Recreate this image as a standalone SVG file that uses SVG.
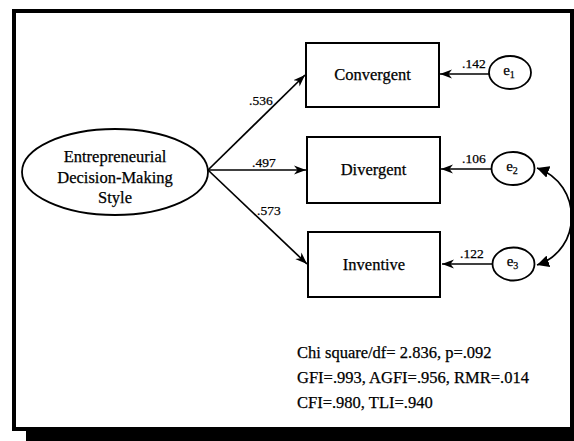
<svg xmlns="http://www.w3.org/2000/svg" width="574" height="441" viewBox="0 0 574 441">
<style>
text{font-family:"Liberation Serif","Times New Roman",serif;fill:#000;stroke:#000;stroke-width:0.25}
.box{fill:#fff;stroke:#000;stroke-width:2}
.ell{fill:#fff;stroke:#000;stroke-width:1.8}
.lbl{font-size:16.5px;text-anchor:middle}
.coef{font-size:13.5px}
.stat{font-size:16.5px}
.e{font-size:15px;text-anchor:middle}
.sub{font-size:10px}
.conn{stroke:#000;stroke-width:1.7;fill:none}
</style>
<defs>
<marker id="arr" markerUnits="userSpaceOnUse" markerWidth="13" markerHeight="10" refX="12" refY="5" orient="auto">
<path d="M0,0.5 L12,5 L0,9.5 L3.5,5 z" fill="#000"/>
</marker>
<marker id="tri" markerUnits="userSpaceOnUse" markerWidth="13" markerHeight="12" refX="12" refY="6" orient="auto-start-reverse">
<path d="M0,0 L12,6 L0,12 z" fill="#000"/>
</marker>
</defs>
<g id="frame">
<rect x="26" y="22" width="560" height="430" fill="#000"/>
<rect x="14" y="11" width="558" height="418" fill="#fff" stroke="#000" stroke-width="4"/>
</g>
<g id="connectors">
<line class="conn" x1="208" y1="170" x2="305" y2="75" marker-end="url(#arr)"/>
<line class="conn" x1="208" y1="170" x2="306" y2="170" marker-end="url(#arr)"/>
<line class="conn" x1="208" y1="170" x2="307" y2="264" marker-end="url(#arr)"/>
<line class="conn" x1="489" y1="74" x2="440" y2="74" marker-end="url(#arr)"/>
<line class="conn" x1="491" y1="169" x2="441" y2="169" marker-end="url(#arr)"/>
<line class="conn" x1="492" y1="264" x2="442" y2="264" marker-end="url(#arr)"/>
<path class="conn" d="M537,168 C583,184 583,250 537,265" marker-start="url(#tri)" marker-end="url(#tri)"/>
<text class="coef" x="249" y="105">.536</text>
<text class="coef" x="252" y="167">.497</text>
<text class="coef" x="257" y="215">.573</text>
<text class="coef" x="462" y="68">.142</text>
<text class="coef" x="462" y="163">.106</text>
<text class="coef" x="460" y="258">.122</text>
</g>
<g id="edms">
<ellipse class="ell" cx="115" cy="172" rx="93" ry="43"/>
<text class="lbl" x="115" y="162">Entrepreneurial</text>
<text class="lbl" x="115" y="183">Decision-Making</text>
<text class="lbl" x="115" y="203">Style</text>
</g>
<g id="convergent">
<rect class="box" x="306" y="43" width="133" height="64"/>
<text class="lbl" x="372.5" y="80">Convergent</text>
</g>
<g id="divergent">
<rect class="box" x="307" y="137" width="133" height="66"/>
<text class="lbl" x="373.5" y="175">Divergent</text>
</g>
<g id="inventive">
<rect class="box" x="308" y="232" width="132" height="65"/>
<text class="lbl" x="374" y="270">Inventive</text>
</g>
<g id="e1">
<ellipse class="ell" cx="510" cy="72.5" rx="21" ry="16.5"/>
<text class="e" x="509" y="75">e<tspan class="sub" dy="3">1</tspan></text>
</g>
<g id="e2">
<ellipse class="ell" cx="513" cy="168.5" rx="21.5" ry="16.5"/>
<text class="e" x="512" y="171">e<tspan class="sub" dy="3">2</tspan></text>
</g>
<g id="e3">
<ellipse class="ell" cx="513.5" cy="264" rx="21" ry="16.5"/>
<text class="e" x="512.5" y="266">e<tspan class="sub" dy="3">3</tspan></text>
</g>
<g id="stats">
<text class="stat" x="297" y="358">Chi square/df= 2.836, p=.092</text>
<text class="stat" x="297" y="383">GFI=.993, AGFI=.956, RMR=.014</text>
<text class="stat" x="297" y="408">CFI=.980, TLI=.940</text>
</g>
</svg>
